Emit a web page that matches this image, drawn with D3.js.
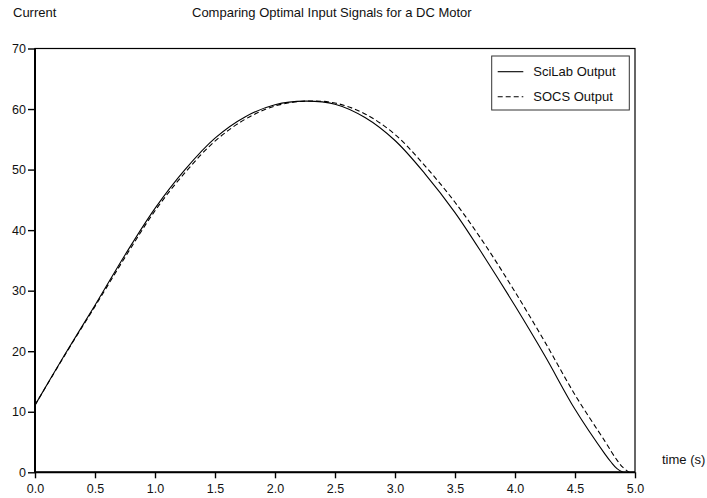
<!DOCTYPE html>
<html>
<head>
<meta charset="utf-8">
<script src="https://cdn.jsdelivr.net/npm/d3@7"></script>
<style>
  html, body { margin: 0; padding: 0; background: #fff; }
  svg text { font-family: "Liberation Sans", Arial, sans-serif; fill: #111; }
</style>
</head>
<body>
<svg id="chart" width="707" height="498"></svg>
<script>
// Motor current over time (s) for the two optimal input signals
const timeSciLab = [0, 0.25, 0.5, 0.75, 1.0, 1.25, 1.5, 1.75, 2.0, 2.25, 2.5, 2.75, 3.0, 3.25, 3.5, 3.75, 4.0, 4.25, 4.5, 4.75, 4.8, 4.85, 4.9];
const currentSciLab = [11.1, 19.5, 27.6, 35.9, 43.6, 50.0, 55.2, 58.7, 60.7, 61.3, 60.8, 58.6, 54.8, 49.3, 42.9, 35.4, 27.5, 19.2, 10.4, 3.0, 1.7, 0.6, 0.0];

const timeSOCS = [0, 0.25, 0.5, 0.75, 1.0, 1.25, 1.5, 1.75, 2.0, 2.25, 2.5, 2.75, 3.0, 3.25, 3.5, 3.75, 4.0, 4.25, 4.5, 4.75, 4.85, 4.9, 4.95];
const currentSOCS = [11.1, 19.4, 27.4, 35.5, 43.2, 49.5, 54.7, 58.3, 60.5, 61.3, 61.0, 59.2, 55.8, 50.6, 44.6, 37.6, 29.8, 21.5, 12.8, 5.1, 2.0, 0.8, 0.0];

const xMajorTicks = [0, 0.5, 1.0, 1.5, 2.0, 2.5, 3.0, 3.5, 4.0, 4.5, 5.0];
const yMajorTicks = [0, 10, 20, 30, 40, 50, 60, 70];

const seriesNames = ["SciLab Output", "SOCS Output"];
const titleText = "Comparing Optimal Input Signals for a DC Motor";
const yAxisTitle = "Current";
const xAxisTitle = "time (s)";

const svg = d3.select("#chart");
const margin = { left: 35, top: 48.5, right: 72, bottom: 25.7 };
const W = 707, H = 498;

const x = d3.scaleLinear().domain([0, 5]).range([margin.left, W - margin.right]);
const y = d3.scaleLinear().domain([0, 70]).range([H - margin.bottom, margin.top]);

// frame (top + right edges)
svg.append("rect")
  .attr("x", x(0)).attr("y", y(70))
  .attr("width", x(5) - x(0)).attr("height", y(0) - y(70))
  .attr("fill", "none").attr("stroke", "#000").attr("stroke-width", 1.2);

// minor ticks
const xMinor = d3.range(0, 5.001, 0.25);
const yMinor = d3.range(0, 70.001, 10 / 3);

const xAxis = d3.axisBottom(x).tickValues(xMajorTicks).tickFormat(d3.format(".1f")).tickSize(6).tickPadding(6);
const yAxis = d3.axisLeft(y).tickValues(yMajorTicks).tickFormat(d3.format("d")).tickSize(7).tickPadding(2);

const gx = svg.append("g").attr("transform", `translate(0,${y(0)})`);
gx.call(d3.axisBottom(x).tickValues(xMinor).tickFormat("").tickSize(5));
gx.call(xAxis);
const gy = svg.append("g").attr("transform", `translate(${x(0)},0)`);
gy.call(d3.axisLeft(y).tickValues(yMinor).tickFormat("").tickSize(5));
gy.call(yAxis);

svg.selectAll(".domain").attr("stroke", "#000").attr("stroke-width", 2);
svg.selectAll(".tick line").attr("stroke", "#000").attr("stroke-width", 1.4);
svg.selectAll(".tick text").attr("font-size", 12.5).attr("fill", "#111");
gy.selectAll(".domain").attr("d", `M0,${y(0)}V${y(70)}`);
gx.selectAll(".domain").attr("d", `M${x(0)},0H${x(5)}`);

// curves
const line = d3.line()
  .x(d => x(d[0]))
  .y(d => y(d[1]))
  .curve(d3.curveCatmullRom.alpha(0.5));

const sciData = timeSciLab.map((t, i) => [t, currentSciLab[i]]);
const socsData = timeSOCS.map((t, i) => [t, currentSOCS[i]]);

svg.append("path").datum(sciData).attr("d", line)
  .attr("fill", "none").attr("stroke", "#000").attr("stroke-width", 1.1);
svg.append("path").datum(socsData).attr("d", line)
  .attr("fill", "none").attr("stroke", "#000").attr("stroke-width", 1.1)
  .attr("stroke-dasharray", "5,3");

// titles
svg.append("text").attr("x", 13).attr("y", 17).attr("font-size", 13).text(yAxisTitle);
svg.append("text").attr("x", 192).attr("y", 17).attr("font-size", 13).text(titleText);
svg.append("text").attr("x", 662).attr("y", 464).attr("font-size", 13).text(xAxisTitle);

// legend
const leg = svg.append("g");
leg.append("rect").attr("x", 491.7).attr("y", 56).attr("width", 137.6).attr("height", 54)
  .attr("fill", "#fff").attr("stroke", "#333").attr("stroke-width", 1);
const legY = [71.7, 96.7];
seriesNames.forEach((name, i) => {
  leg.append("line").attr("x1", 497.7).attr("x2", 523.3).attr("y1", legY[i]).attr("y2", legY[i])
    .attr("stroke", "#000").attr("stroke-width", 1.1)
    .attr("stroke-dasharray", i === 1 ? "5,3" : null);
  leg.append("text").attr("x", 533.3).attr("y", legY[i] + 4.5).attr("font-size", 13).text(name);
});
</script>
</body>
</html>
